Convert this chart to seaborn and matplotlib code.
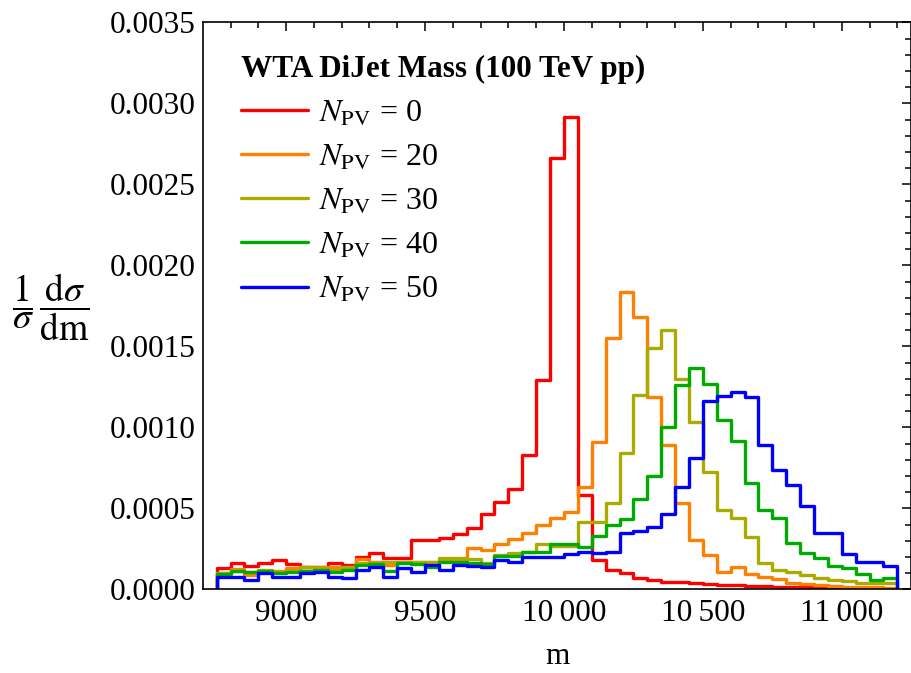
import numpy as np
import pandas as pd
import matplotlib
matplotlib.use("Agg")
import matplotlib.pyplot as plt
from matplotlib.ticker import MultipleLocator, FixedLocator, FixedFormatter
import seaborn as sns

# ---------------- data ----------------
bin_width = 50
bin_starts = list(range(8750, 11200, bin_width))  # 49 bins, 8750 .. 11150

series_labels = [r"$N_{\mathrm{PV}}$ = 0", r"$N_{\mathrm{PV}}$ = 20", r"$N_{\mathrm{PV}}$ = 30",
                 r"$N_{\mathrm{PV}}$ = 40", r"$N_{\mathrm{PV}}$ = 50"]
series_colors = ["#FF0000", "#FF8000", "#AAAA00", "#00AA00", "#0000FF"]

npv0 = [0.000135, 0.000162, 0.000145, 0.000166, 0.000180, 0.000155, 0.000141, 0.000141, 0.000166, 0.000149,
        0.000203, 0.000223, 0.000196, 0.000196, 0.000306, 0.000306, 0.000320, 0.000341, 0.000378, 0.000464,
        0.000542, 0.000618, 0.000830, 0.001293, 0.002665, 0.002915, 0.000583, 0.000182, 0.000120, 0.000104,
        0.000069, 0.000059, 0.000044, 0.000044, 0.000038, 0.000032, 0.000030, 0.000027, 0.000022, 0.000020,
        0.000018, 0.000015, 0.000013, 0.000011, 0.000010, 0.000008, 0.000007, 0.000006, 0.000005]

npv20 = [0.000100, 0.000129, 0.000090, 0.000116, 0.000116, 0.000131, 0.000141, 0.000141, 0.000137, 0.000131,
         0.000188, 0.000172, 0.000151, 0.000172, 0.000172, 0.000168, 0.000182, 0.000186, 0.000258, 0.000244,
         0.000279, 0.000310, 0.000351, 0.000398, 0.000443, 0.000476, 0.000635, 0.000913, 0.001554, 0.001835,
         0.001684, 0.001190, 0.000892, 0.000532, 0.000306, 0.000213, 0.000110, 0.000137, 0.000096, 0.000079,
         0.000063, 0.000040, 0.000032, 0.000026, 0.000022, 0.000018, 0.000016, 0.000014, 0.000012]

npv30 = [0.000100, 0.000114, 0.000110, 0.000121, 0.000110, 0.000116, 0.000137, 0.000131, 0.000121, 0.000137,
         0.000166, 0.000166, 0.000168, 0.000172, 0.000172, 0.000172, 0.000196, 0.000196, 0.000186, 0.000161,
         0.000213, 0.000223, 0.000234, 0.000279, 0.000269, 0.000269, 0.000419, 0.000419, 0.000532, 0.000840,
         0.001200, 0.001489, 0.001600, 0.001300, 0.001036, 0.000727, 0.000491, 0.000439, 0.000326, 0.000162,
         0.000120, 0.000110, 0.000090, 0.000069, 0.000060, 0.000050, 0.000042, 0.000040, 0.000040]

npv40 = [0.000096, 0.000117, 0.000110, 0.000117, 0.000104, 0.000110, 0.000117, 0.000121, 0.000110, 0.000121,
         0.000151, 0.000157, 0.000114, 0.000162, 0.000157, 0.000137, 0.000168, 0.000171, 0.000165, 0.000157,
         0.000207, 0.000207, 0.000234, 0.000234, 0.000279, 0.000279, 0.000265, 0.000330, 0.000398, 0.000436,
         0.000557, 0.000700, 0.001005, 0.001260, 0.001365, 0.001268, 0.001046, 0.000919, 0.000655, 0.000491,
         0.000443, 0.000289, 0.000227, 0.000196, 0.000145, 0.000131, 0.000094, 0.000059, 0.000069]

npv50 = [0.000079, 0.000079, 0.000059, 0.000104, 0.000079, 0.000079, 0.000104, 0.000110, 0.000079, 0.000073,
         0.000120, 0.000141, 0.000079, 0.000135, 0.000110, 0.000151, 0.000120, 0.000151, 0.000148, 0.000137,
         0.000182, 0.000171, 0.000203, 0.000203, 0.000203, 0.000219, 0.000230, 0.000223, 0.000234, 0.000349,
         0.000364, 0.000386, 0.000467, 0.000635, 0.000810, 0.001165, 0.001196, 0.001221, 0.001190, 0.000892,
         0.000738, 0.000645, 0.000515, 0.000351, 0.000347, 0.000219, 0.000172, 0.000168, 0.000145]

all_series = [npv0, npv20, npv30, npv40, npv50]

x_ticks = [9000, 9500, 10000, 10500, 11000]
x_tick_labels = ["9000", "9500", "10\u2009000", "10\u2009500", "11\u2009000"]
y_ticks = [0.0, 0.0005, 0.0010, 0.0015, 0.0020, 0.0025, 0.0030, 0.0035]
y_tick_labels = ["0.0000", "0.0005", "0.0010", "0.0015", "0.0020", "0.0025", "0.0030", "0.0035"]
legend_title = "WTA DiJet Mass (100 TeV pp)"

# ---------------- build long table of histogram outlines ----------------
rows = []
for lab, vals in zip(series_labels, all_series):
    assert len(vals) == len(bin_starts)
    xs = [bin_starts[0]] + bin_starts + [bin_starts[-1] + bin_width]
    ys = [0.0] + list(vals) + [0.0]
    for xv, yv in zip(xs, ys):
        rows.append({"m": xv, "density": yv, "series": lab})
df = pd.DataFrame(rows)

# ---------------- style ----------------
sns.set_style("white")
plt.rcParams["font.family"] = ["Liberation Serif", "DejaVu Serif"]
plt.rcParams["mathtext.fontset"] = "stix"
plt.rcParams["axes.linewidth"] = 1.2
plt.rcParams["text.color"] = "black"
plt.rcParams["axes.labelcolor"] = "black"
plt.rcParams["xtick.color"] = "black"
plt.rcParams["ytick.color"] = "black"

fig = plt.figure(figsize=(9.12, 6.73), dpi=100)
ax = fig.add_axes([0.2226, 0.1241, 0.7763, 0.8425])

sns.lineplot(data=df, x="m", y="density", hue="series", hue_order=series_labels,
             palette=dict(zip(series_labels, series_colors)), estimator=None, sort=False,
             units="series", drawstyle="steps-post", linewidth=2.4, ax=ax, legend=True)

ax.set_xlim(8701, 11249)
ax.set_ylim(0, 0.0035)

ax.xaxis.set_major_locator(FixedLocator(x_ticks))
ax.xaxis.set_major_formatter(FixedFormatter(x_tick_labels))
ax.xaxis.set_minor_locator(MultipleLocator(100))
ax.yaxis.set_major_locator(FixedLocator(y_ticks))
ax.yaxis.set_major_formatter(FixedFormatter(y_tick_labels))
ax.yaxis.set_minor_locator(MultipleLocator(0.0001))

ax.tick_params(which="both", direction="in", top=True, right=True, width=1.1, colors="black")
ax.tick_params(which="major", length=6.5, labelsize=22.5)
ax.tick_params(axis="x", which="major", pad=7)
ax.tick_params(axis="y", which="major", pad=5.5)
ax.tick_params(which="minor", length=4)
for sp in ax.spines.values():
    sp.set_color("black")
    sp.set_linewidth(1.2)

ax.set_xlabel("m", fontsize=22.5, color="black")
ax.xaxis.set_label_coords(0.5, -0.118)
ax.xaxis.label.set_va("center")
ax.set_ylabel(r"$\dfrac{1}{\sigma}\,\dfrac{\mathrm{d}\sigma}{\mathrm{dm}}$", fontsize=27, rotation=0,
              color="black")
ax.yaxis.set_label_coords(-0.215, 0.498)
ax.yaxis.label.set_va("center")
ax.yaxis.label.set_ha("center")

sns.move_legend(ax, "upper left", bbox_to_anchor=(0.053, 0.942), frameon=False,
                title=legend_title, title_fontproperties={"weight": "bold", "size": 22.4},
                fontsize=23, handlelength=2.1, handletextpad=0.36, labelspacing=0.46,
                borderaxespad=0, borderpad=0, alignment="left", labelcolor="black")
ax.get_legend().get_title().set_color("black")

fig.savefig("out.png", dpi=100)
